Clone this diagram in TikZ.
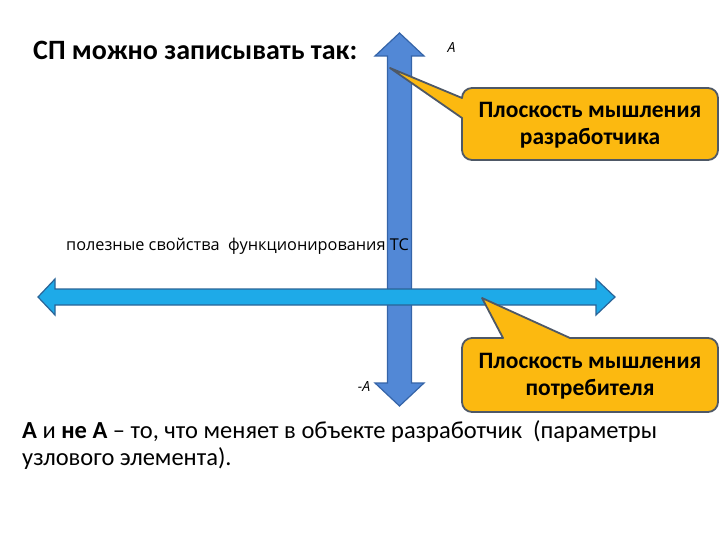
\documentclass[tikz,border=0pt]{standalone}
\usepackage{fontspec}
\setmainfont{Carlito}
\newfontfamily\comicfont{Open Sans}
\definecolor{vfill}{HTML}{5288D6}
\definecolor{vline}{HTML}{3564A8}
\definecolor{hfill}{HTML}{1EAAE8}
\definecolor{hline}{HTML}{2A6498}
\definecolor{cfill}{HTML}{FCB910}
\definecolor{cline}{HTML}{4E5866}
\tikzset{
  varrow/.style={fill=vfill,draw=vline,line width=1.2pt,line join=miter},
  harrow/.style={fill=hfill,draw=hline,line width=1.2pt,line join=miter},
  callout/.style={fill=cfill,draw=cline,line width=1.8pt,line join=round},
  ctext/.style={font=\bfseries\fontsize{23.5}{27}\selectfont,align=center,inner sep=0pt},
  btext/.style={font=\fontsize{24.5}{27}\selectfont,inner sep=0pt,anchor=base west},
  comic/.style={font=\comicfont\fontsize{16.3}{18}\selectfont,inner sep=0pt},
  axlabel/.style={font=\comicfont\itshape\fontsize{14}{16}\selectfont,inner sep=0pt}
}
\begin{document}
\begin{tikzpicture}[x=1pt,y=-1pt]
\useasboundingbox[fill=white] (0,0) rectangle (720,540);
% vertical arrow
\draw[varrow] (399.5,33) -- (424,56) -- (411.5,56) -- (411.5,383) -- (424,383) -- (399.5,406)
  -- (375,383) -- (387.5,383) -- (387.5,56) -- (375,56) -- cycle;
% horizontal arrow
\draw[harrow] (38,297) -- (55,279) -- (55,289) -- (596,289) -- (596,279) -- (615,297)
  -- (596,315) -- (596,305) -- (55,305) -- (55,315) -- cycle;
% callout 1
\draw[callout] (462,118) -- (462,150) arc(180:90:10) -- (708,160) arc(90:0:10)
  -- (718,98) arc(0:-90:10) -- (472,88) arc(-90:-180:10) -- (390,68) -- cycle;
% callout 2
\draw[callout] (570,338) -- (708,338) arc(-90:0:10) -- (718,402) arc(0:90:10)
  -- (472,412) arc(90:180:10) -- (462,348) arc(180:270:10) -- (503,338) -- (482,298) -- cycle;
% texts
\node[anchor=base west,inner sep=0pt,font=\bfseries\fontsize{28}{30}\selectfont] (title) at (33,60) {СП можно записывать так:};
\node[axlabel] (a) at (451.5,48) {А};
\node[axlabel] (na) at (364,387) {-А};
\node[comic,anchor=base west] (useful) at (66,251) {полезные свойства\ \ функционирования ТС};
\node[ctext,anchor=base] (c1) at (590,145) {Плоскость мышления\\разработчика};
\node[ctext,anchor=base] (c2) at (590,395) {Плоскость мышления\\потребителя};
\node[btext] (b1) at (22,438) {\textbf{А} и \textbf{не А} – то, что меняет в объекте разработчик\ \ (параметры};
\node[btext] (b2) at (22,465) {узлового элемента).};
\end{tikzpicture}
\end{document}
